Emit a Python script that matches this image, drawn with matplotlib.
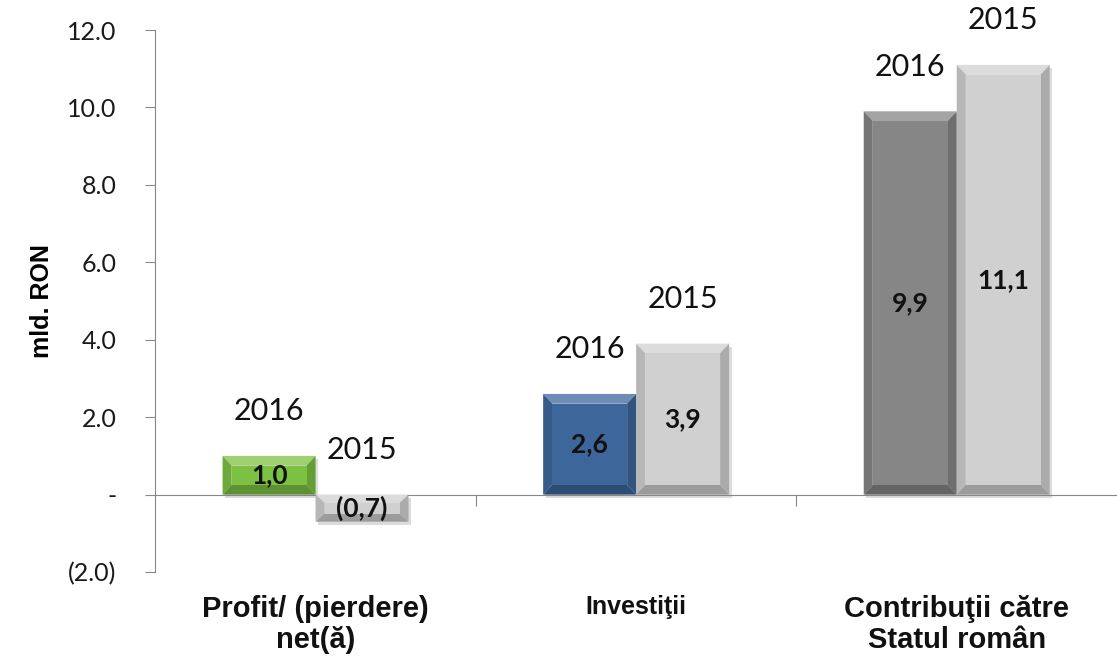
import matplotlib
matplotlib.use("Agg")
import matplotlib.pyplot as plt
from matplotlib.patches import Polygon
from matplotlib.colors import to_rgb
import numpy as np

# data (mld. RON)
categories = ["Profit/ (pierdere)\nnet(ă)", "Investiţii", "Contribuţii către\nStatul român"]
cat_sizes = [21, 18, 21]
years = ["2016", "2015"]
v2016 = [1.0, 2.6, 9.9]
v2015 = [-0.7, 3.9, 11.1]
colors2016 = ["#7cc142", "#3d679b", "#868686"]
colors2015 = ["#d0d0d0", "#d0d0d0", "#d0d0d0"]
yticks = [-2, 0, 2, 4, 6, 8, 10, 12]
yticklabels = ["(2.0)", "-", "2.0", "4.0", "6.0", "8.0", "10.0", "12.0"]


def shade(c, f):
    r = np.array(to_rgb(c))
    if f >= 1:
        return tuple(r + (1 - r) * (f - 1))
    return tuple(r * f)


def bevel_bar(ax, x, w, v, color):
    x0, x1 = x - w / 2, x + w / 2
    y0, y1 = min(0, v), max(0, v)
    bx = 0.028
    by = min(0.25, (y1 - y0) * 0.3)
    ix0, ix1, iy0, iy1 = x0 + bx, x1 - bx, y0 + by, y1 - by
    # soft shadow
    ax.add_patch(Polygon([(x0 + 0.008, y0 - 0.08), (x1 + 0.008, y0 - 0.08),
                          (x1 + 0.008, y1 - 0.08), (x0 + 0.008, y1 - 0.08)],
                         closed=True, fc="#bbbbbb", ec="none", alpha=0.5, zorder=2))
    faces = [
        ([(x0, y1), (x1, y1), (ix1, iy1), (ix0, iy1)], shade(color, 1.25)),
        ([(x0, y0), (x0, y1), (ix0, iy1), (ix0, iy0)], shade(color, 0.88)),
        ([(x1, y0), (x1, y1), (ix1, iy1), (ix1, iy0)], shade(color, 0.82)),
        ([(x0, y0), (x1, y0), (ix1, iy0), (ix0, iy0)], shade(color, 0.75)),
        ([(ix0, iy0), (ix1, iy0), (ix1, iy1), (ix0, iy1)], color),
    ]
    for pts, fc in faces:
        ax.add_patch(Polygon(pts, closed=True, fc=fc, ec="none", zorder=3))


def fmt(v):
    s = f"{abs(v):.1f}".replace(".", ",")
    return f"({s})" if v < 0 else s


fig = plt.figure(figsize=(11.17, 6.6), dpi=100)
ax = fig.add_axes([0.139, 0.1333, 0.861, 0.8212])

x = np.arange(len(categories))
w = 0.29
for i in x:
    for v, col, off, yr in [(v2016[i], colors2016[i], -w / 2, years[0]),
                            (v2015[i], colors2015[i], w / 2, years[1])]:
        bevel_bar(ax, i + off, w, v, col)
        ax.text(i + off, v / 2, fmt(v), ha="center", va="center",
                fontsize=19, fontweight="bold", family="Lato", color="#111111", zorder=5)
        ax.annotate(yr, (i + off, max(v, 0)), xytext=(0, 32), textcoords="offset points",
                    ha="center", va="center", fontsize=22, family="Lato", color="#111111")

ax.set_xlim(-0.5, len(categories) - 0.5)
ax.set_ylim(-2, 12)
ax.set_yticks(yticks)
ax.set_yticklabels(yticklabels, fontsize=18, family="Lato", color="#1a1a1a")
ax.tick_params(axis="y", direction="out", length=7, color="#888888", pad=21)

ax.spines["top"].set_visible(False)
ax.spines["right"].set_visible(False)
ax.spines["left"].set_color("#888888")
ax.spines["bottom"].set_color("#888888")
ax.spines["bottom"].set_position(("data", 0))
ax.set_xticks(x[:-1] + 0.5)
ax.set_xticklabels([])
ax.tick_params(axis="x", direction="out", length=8, color="#888888")

for i, (c, fs) in enumerate(zip(categories, cat_sizes)):
    ax.text(i, -0.042, c, transform=ax.get_xaxis_transform(), ha="center", va="top",
            fontsize=fs, fontweight="bold", family="Liberation Sans", color="#111111",
            linespacing=1.15)

ax.set_ylabel("mld. RON", fontsize=18, fontweight="bold", family="Liberation Sans")
ax.yaxis.set_label_coords(-0.105, 0.5)

fig.savefig("out.png", dpi=100)
